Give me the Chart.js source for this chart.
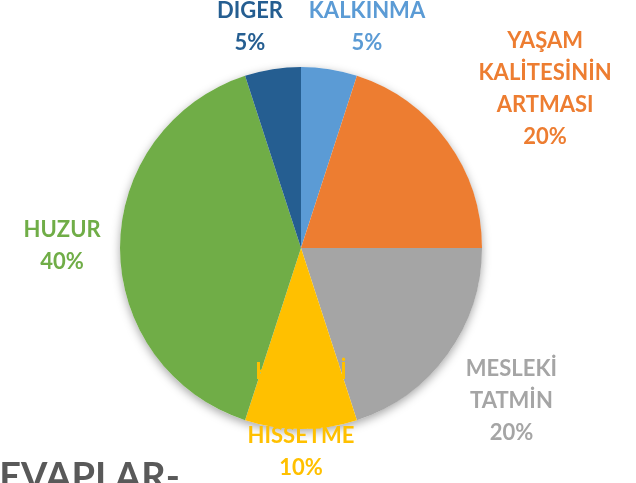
<!DOCTYPE html>
<html>
<head>
<meta charset="utf-8">
<script src="https://cdn.jsdelivr.net/npm/chart.js@4.4.1/dist/chart.umd.min.js"></script>
<style>
    html, body { margin: 0; padding: 0; background: #fff; overflow: hidden; }
    #wrap { position: relative; width: 636px; height: 483px; }
    #title {
        position: absolute; left: -26px; top: 456px;
        font: bold 38px Lato, sans-serif; color: #595959; line-height: 1; white-space: nowrap;
    }
</style>
</head>
<body>
<div id="wrap">
    <canvas id="pieChart" width="636" height="483"></canvas>
    <div id="title">CEVAPLAR-</div>
</div>
<script>
// Chart data
const categories = ['KALKINMA', 'YAŞAM KALİTESİNİN ARTMASI', 'MESLEKİ TATMİN', 'KENDİNİ İYİ HİSSETME', 'HUZUR', 'DİĞER'];
const values = [5, 20, 20, 10, 40, 5];
const labelLines = [
    ['KALKINMA'],
    ['YAŞAM', 'KALİTESİNİN', 'ARTMASI'],
    ['MESLEKİ', 'TATMİN'],
    ['KENDİNİ', 'İYİ', 'HİSSETME'],
    ['HUZUR'],
    ['DİĞER']
];
const colors = ['#5B9BD5', '#ED7D31', '#A5A5A5', '#FFC000', '#70AD47', '#255E91'];

// label placement: [angle shift in degrees, distance as factor of radius]
const labelPlace = [[7.6, 1.276], [2.9, 1.61], [0, 1.437], [0, 0.95], [0.5, 1.32], [-4, 1.254]];

// soft shadow under the pie
const pieShadow = {
    id: 'pieShadow',
    beforeDatasetsDraw(chart) {
        const arc = chart.getDatasetMeta(0).data[0];
        const ctx = chart.ctx;
        ctx.save();
        ctx.shadowColor = 'rgba(0,0,0,0.35)';
        ctx.shadowBlur = 10;
        ctx.shadowOffsetY = 3;
        ctx.fillStyle = '#fff';
        ctx.beginPath();
        ctx.arc(arc.x, arc.y, arc.outerRadius, 0, Math.PI * 2);
        ctx.fill();
        ctx.restore();
    }
};

// category + percent labels
const pieLabels = {
    id: 'pieLabels',
    afterDatasetsDraw(chart) {
        const ctx = chart.ctx;
        const total = values.reduce((a, b) => a + b, 0);
        const lineH = 32;
        ctx.save();
        ctx.font = 'bold 22px Lato, sans-serif';
        ctx.textAlign = 'center';
        ctx.textBaseline = 'middle';
        chart.getDatasetMeta(0).data.forEach((arc, i) => {
            const mid = (arc.startAngle + arc.endAngle) / 2 + labelPlace[i][0] * Math.PI / 180;
            const dist = arc.outerRadius * labelPlace[i][1];
            const x = arc.x + Math.cos(mid) * dist;
            const y = arc.y + Math.sin(mid) * dist;
            const lines = labelLines[i].concat([Math.round(values[i] / total * 100) + '%']);
            const top = y - (lines.length - 1) * lineH / 2;
            ctx.fillStyle = colors[i];
            lines.forEach((t, k) => ctx.fillText(t, x, top + k * lineH));
        });
        ctx.restore();
    }
};

new Chart(document.getElementById('pieChart').getContext('2d'), {
    type: 'pie',
    data: {
        labels: categories,
        datasets: [{
            data: values,
            backgroundColor: colors,
            borderWidth: 0
        }]
    },
    options: {
        responsive: false,
        animation: false,
        layout: { padding: { left: 120, right: 154, top: 67, bottom: 54 } },
        plugins: {
            legend: { display: false },
            tooltip: { enabled: false }
        }
    },
    plugins: [pieShadow, pieLabels]
});
</script>
</body>
</html>
